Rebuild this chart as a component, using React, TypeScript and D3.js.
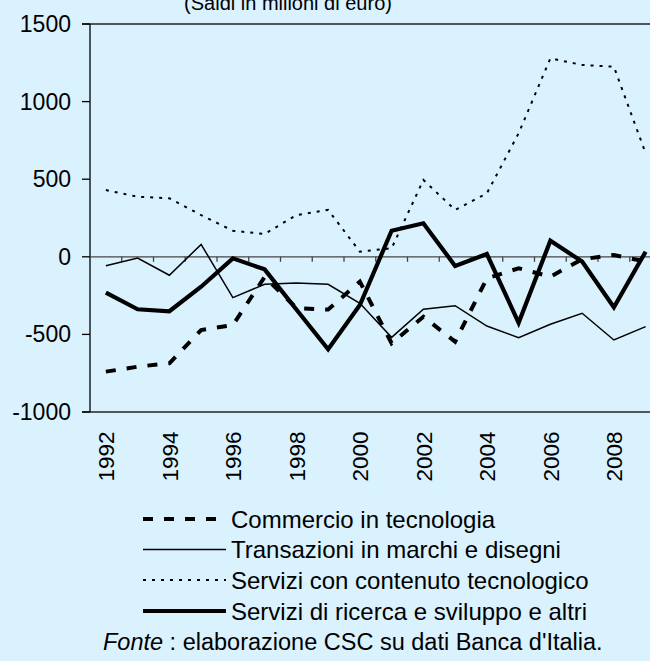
import React from "react";
import * as d3 from "d3";

const years = [1992,1993,1994,1995,1996,1997,1998,1999,2000,2001,2002,2003,2004,2005,2006,2007,2008,2009];
const commercio = [-740,-708,-686,-472,-440,-130,-330,-340,-160,-557,-386,-547,-139,-74,-128,-16,12,-31];
const transazioni = [-57,-8,-119,80,-263,-177,-169,-177,-300,-519,-338,-315,-446,-521,-435,-364,-536,-450];
const serviziTec = [430,387,377,269,168,147,269,302,33,55,495,302,409,796,1279,1236,1225,667];
const serviziRicerca = [-231,-338,-351,-193,-10,-81,-340,-596,-311,168,216,-59,18,-425,104,-31,-325,33];
const yTicks = [-1000,-500,0,500,1000,1500];
const yearLabels = [1992,1994,1996,1998,2000,2002,2004,2006,2008];

const seriesNames = [
  "Commercio in tecnologia",
  "Transazioni in marchi e disegni",
  "Servizi con contenuto tecnologico",
  "Servizi di ricerca e sviluppo e altri",
];

const styles = [
  { w: 4, dash: "10,11" },
  { w: 1.5, dash: "" },
  { w: 2, dash: "3,6" },
  { w: 4.2, dash: "" },
];

const W = 650, H = 661;
const left = 90, right = 661.5, top = 24, bottom = 412;
const font = "'Liberation Sans', Arial, sans-serif";

export default function App() {
  const x = d3.scaleBand<number>().domain(years).range([left, right]).padding(0);
  const y = d3.scaleLinear().domain([-1000, 1500]).range([bottom, top]);
  const cx = (yr: number) => (x(yr) as number) + x.bandwidth() / 2;
  const line = d3.line<number>().x((_, i) => cx(years[i])).y((v) => y(v));
  const data = [commercio, transazioni, serviziTec, serviziRicerca];
  const legendY = [519, 549.5, 580, 611];

  return (
    <svg width={W} height={H} style={{ position: "absolute", left: 0, top: 0 }} fontFamily={font}>
      <rect x={0} y={0} width={W} height={H} fill="#DAF1FE" />
      <text x={288} y={10} fontSize={20} textAnchor="middle" fill="#000">(Saldi in milioni di euro)</text>
      <line x1={left - 8} x2={W} y1={y(1500)} y2={y(1500)} stroke="#222" strokeWidth={1.3} />
      <line x1={left - 8} x2={W} y1={y(-1000)} y2={y(-1000)} stroke="#222" strokeWidth={1.3} />
      <line x1={left} x2={left} y1={top} y2={bottom} stroke="#000" strokeWidth={1.3} />
      {yTicks.map((t) => (
        <g key={t}>
          <line x1={left - 8} x2={left} y1={y(t)} y2={y(t)} stroke="#000" strokeWidth={1.3} />
          <text x={71} y={y(t) + 8} fontSize={23} textAnchor="end" fill="#000">{t}</text>
        </g>
      ))}
      <line x1={left} x2={W} y1={y(0)} y2={y(0)} stroke="#444" strokeWidth={1.3} />
      {years.slice(1).map((yr) => (
        <line key={yr} x1={x(yr) as number} x2={x(yr) as number} y1={y(0)} y2={y(0) + 5} stroke="#444" strokeWidth={1.3} />
      ))}
      {yearLabels.map((yr) => (
        <text key={yr} transform={`translate(${cx(yr) + 8.5},${431.5}) rotate(-90)`} fontSize={22.5} textAnchor="end" fill="#000">{yr}</text>
      ))}
      {data.map((d, i) => (
        <path key={i} d={line(d) as string} fill="none" stroke="#000" strokeWidth={styles[i].w}
          strokeDasharray={styles[i].dash || undefined} strokeLinejoin="miter" />
      ))}
      {seriesNames.map((name, i) => (
        <g key={name}>
          <line x1={143} x2={226} y1={legendY[i]} y2={legendY[i]} stroke="#000" strokeWidth={styles[i].w}
            strokeDasharray={styles[i].dash || undefined} />
          <text x={231} y={legendY[i] + 8.5} fontSize={24} fill="#000">{name}</text>
        </g>
      ))}
      <text x={103} y={650} fontSize={23.5} fill="#000">
        <tspan fontStyle="italic">Fonte</tspan>
        <tspan> : elaborazione CSC su dati Banca d'Italia.</tspan>
      </text>
    </svg>
  );
}
